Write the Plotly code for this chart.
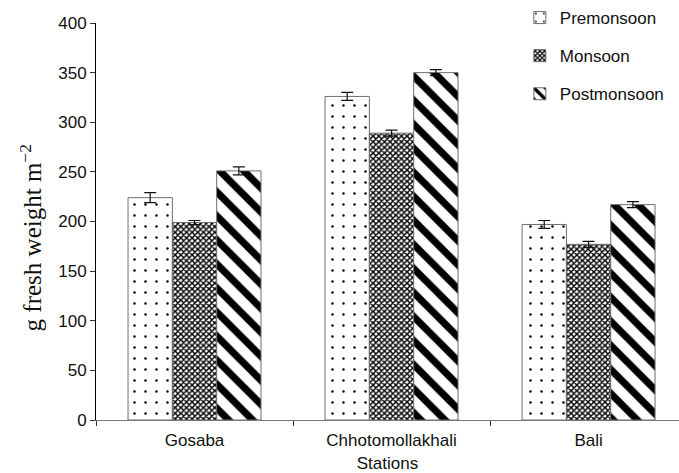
import plotly.graph_objects as go

stations = ["Gosaba", "Chhotomollakhali", "Bali"]
seasons = ["Premonsoon", "Monsoon", "Postmonsoon"]
premonsoon = [224, 326, 197]
monsoon = [199, 289, 177]
postmonsoon = [251, 350, 217]
premonsoon_err = [5, 4, 4]
monsoon_err = [2, 3, 3]
postmonsoon_err = [4, 3, 3]
y_ticks = [0, 50, 100, 150, 200, 250, 300, 350, 400]

values = [premonsoon, monsoon, postmonsoon]
errors = [premonsoon_err, monsoon_err, postmonsoon_err]
patterns = [
    dict(shape=".", fgcolor="black", bgcolor="white", size=11, solidity=0.04,
         fillmode="replace", fgopacity=1),
    dict(shape="x", fgcolor="black", bgcolor="white", size=4, solidity=0.6,
         fillmode="replace", fgopacity=1),
    dict(shape="\\", fgcolor="black", bgcolor="white", size=17, solidity=0.42,
         fillmode="replace", fgopacity=1),
]

fig = go.Figure()
for i, name in enumerate(seasons):
    fig.add_trace(go.Bar(
        x=stations, y=values[i], name=name, legendgroup=name,
        marker=dict(color="white", pattern=patterns[i],
                    line=dict(color="#6e6e6e", width=1)),
        error_y=dict(type="data", array=errors[i], color="#111111", thickness=1.2, width=6),
    ))

fig.update_layout(
    width=679, height=473,
    margin=dict(l=96, r=0, t=23, b=53),
    paper_bgcolor="white", plot_bgcolor="white",
    barmode="group", bargap=0.325, bargroupgap=0,
    font=dict(family="Liberation Sans, Arial", size=17, color="#111111"),
    showlegend=True,
    legend=dict(x=0.727, y=1.058, xanchor="left", yanchor="top",
                bgcolor="rgba(0,0,0,0)", tracegroupgap=13,
                font=dict(size=17), itemwidth=30),
    xaxis=dict(
        type="category", range=[-0.5, 2.459],
        showline=True, linecolor="#777777", linewidth=1,
        ticks="outside", tickson="boundaries", ticklen=5, tickcolor="#333333",
        ticklabelstandoff=5,
        showgrid=False, zeroline=False,
        title=dict(text="Stations", font=dict(size=17), standoff=9),
    ),
    yaxis=dict(
        range=[0, 400], tickvals=y_ticks,
        showline=True, linecolor="black", linewidth=1,
        ticks="outside", ticklen=5, tickcolor="#333333",
        showgrid=False, zeroline=False,
    ),
    annotations=[dict(
        text="g fresh weight m<sup>\u22122</sup>",
        xref="paper", yref="paper", x=-0.1115, y=0.46,
        xanchor="center", yanchor="middle",
        textangle=-90, showarrow=False,
        font=dict(family="Liberation Serif, Times New Roman", size=25, color="#111111"),
    )],
)

fig.write_html("out.html", config={"displayModeBar": False},
               post_script="document.body.style.margin='0';")
